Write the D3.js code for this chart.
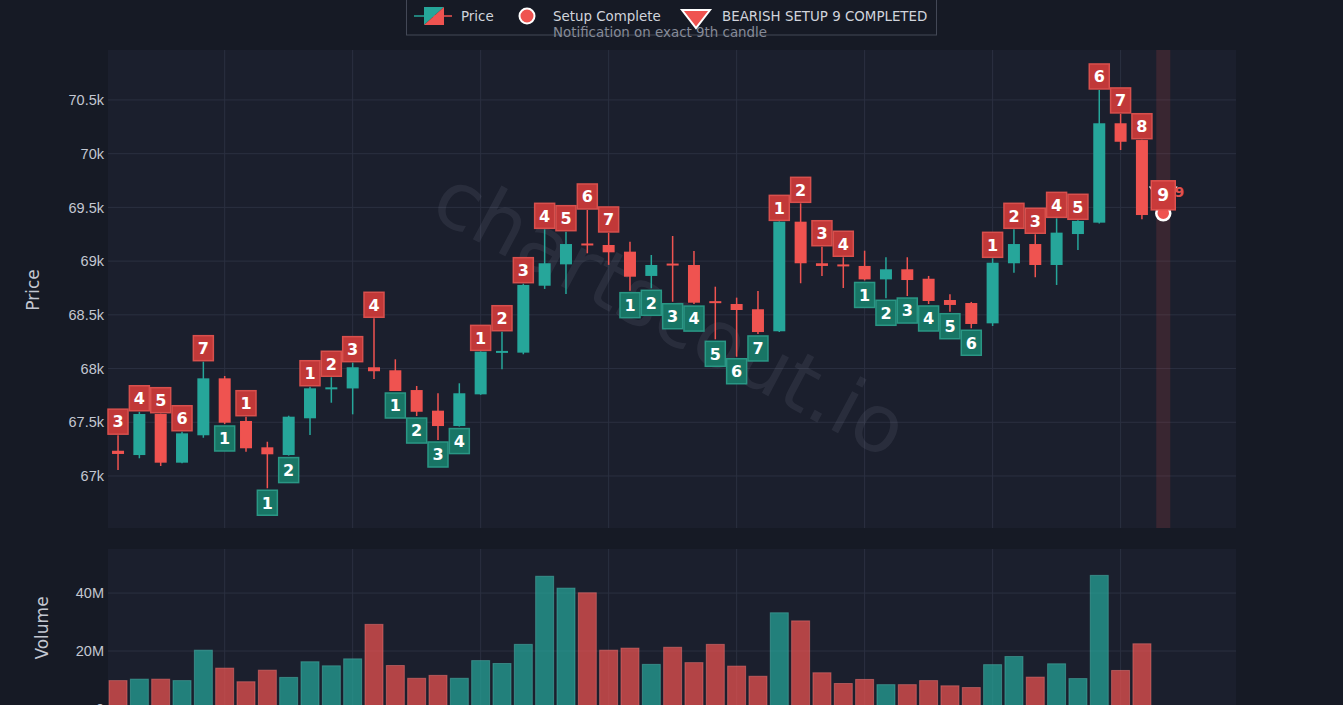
<!DOCTYPE html>
<html>
<head>
<meta charset="utf-8">
<script src="https://cdn.jsdelivr.net/npm/d3@7"></script>
<style>
  html, body { margin: 0; padding: 0; background: #161a25; overflow: hidden; }
  svg { display: block; font-family: "DejaVu Sans", sans-serif; }
</style>
</head>
<body>
<script>
// hourly candles
const opens  = [67235,67195,67577,67124,67379,67909,67512,67267,67195,67537,67812,67815,68012,67984,67800,67608,67465,67760,68150,68148,68771,68970,69155,69150,69088,68862,68968,68964,68618,68601,68552,68347,69367,68980,68960,68955,68830,68924,68836,68638,68610,68421,68980,69159,68964,69252,69358,70283,70127];
const highs  = [67380,67598,67580,67412,68064,67931,67552,67319,67561,67831,67919,68055,68468,68086,67838,67770,67863,68160,68343,68790,69296,69274,69476,69262,69180,69057,69234,69094,68762,68660,68722,69370,69538,69134,69036,69097,69036,69036,68862,68691,68620,69026,69296,69250,69398,69380,70593,70370,70130];
const lows   = [67055,67165,67093,67118,67356,67484,67226,66886,67190,67382,67682,67574,67903,67791,67558,67335,67460,67755,67993,68133,68741,68694,69073,68965,68725,68747,68622,68600,68272,68110,68322,68340,68794,68862,68750,68820,68654,68675,68601,68529,68375,68396,68892,68850,68778,69104,69350,70034,69390];
const closes = [67205,67577,67124,67397,67909,67496,67258,67202,67552,67816,67816,68012,67975,67791,67598,67465,67770,68157,68155,68778,68980,69159,69148,69082,68855,68964,68960,68613,68608,68545,68340,69367,68980,68955,68950,68830,68924,68824,68629,68592,68415,68985,69159,68964,69265,69374,70283,70111,69429];
const volumes = [9.8,10.3,10.3,9.8,20.3,14.1,9.4,13.4,10.9,16.3,14.9,17.3,29.2,15.0,10.6,11.6,10.6,16.7,15.7,22.3,45.8,41.7,40.1,20.3,21.0,15.4,21.3,16.0,22.3,14.8,11.3,33.2,30.4,12.5,8.8,10.2,8.4,8.4,9.8,8.0,7.4,15.3,18.1,11.0,15.6,10.5,46.1,13.3,22.5];

// setup counts: "s" = sell-setup count drawn above, "b" = buy-setup count drawn below
const setupCounts = [3,4,5,6,7,1,1,1,2,1,2,3,4,1,2,3,4,1,2,3,4,5,6,7,1,2,3,4,5,6,7,1,2,3,4,1,2,3,4,5,6,1,2,3,4,5,6,7,8];
const setupSides  = ["s","s","s","s","s","b","s","b","b","s","s","s","s","b","b","b","b","s","s","s","s","s","s","s","b","b","b","b","b","b","b","s","s","s","s","b","b","b","b","b","b","s","s","s","s","s","s","s","s"];

// the completed 9th candle (one slot after the last bar)
const completeIndex = 49;
const completePrice = 69445;

const priceTicks = [67000, 67500, 68000, 68500, 69000, 69500, 70000, 70500];
const volumeTicks = [0, 20e6, 40e6];

const W = 1343, H = 705;
const UP = "#26a69a", DOWN = "#ef5350";
const start = new Date(2024, 5, 12, 19, 0);
const hour = 3600e3;
const times = d3.range(completeIndex + 1).map(i => d3.timeHour.offset(start, i));

const candles = opens.map((o, i) => ({
  t: times[i], o, h: highs[i], l: lows[i], c: closes[i], v: volumes[i] * 1e6,
  n: setupCounts[i], side: setupSides[i]
}));

const plotL = 108, plotR = 1236;
const priceTop = 50, priceBot = 528;
const volTop = 549, volBot = 709;

const x = d3.scaleTime()
  .domain([new Date(+start - 0.47 * hour), new Date(+start + 52.41 * hour)])
  .range([plotL, plotR]);
const y = d3.scaleLinear().domain([66516, 70965]).range([priceBot, priceTop]);
const yv = d3.scaleLinear().domain([0, 55.2e6]).range([volBot, volTop]);

const svg = d3.select("body").append("svg").attr("width", W).attr("height", H);

// panel backgrounds
svg.append("rect").attr("x", plotL).attr("y", priceTop).attr("width", plotR - plotL)
  .attr("height", priceBot - priceTop).attr("fill", "#1b1f2d");
svg.append("rect").attr("x", plotL).attr("y", volTop).attr("width", plotR - plotL)
  .attr("height", volBot - volTop).attr("fill", "#1b1f2d");

const gridColor = "#2b3040";
const xTicks = x.ticks(d3.timeHour.every(6));

// price grid + axis
const pg = svg.append("g");
pg.selectAll(".hg").data(priceTicks).enter().append("line")
  .attr("x1", plotL).attr("x2", plotR)
  .attr("y1", d => y(d)).attr("y2", d => y(d))
  .attr("stroke", gridColor).attr("stroke-width", 1);
pg.selectAll(".vg").data(xTicks).enter().append("line")
  .attr("x1", d => x(d)).attr("x2", d => x(d))
  .attr("y1", priceTop).attr("y2", priceBot)
  .attr("stroke", gridColor).attr("stroke-width", 1);

const yAxis = svg.append("g")
  .attr("transform", `translate(${plotL - 2},0)`)
  .call(d3.axisLeft(y).tickValues(priceTicks).tickFormat(d3.format("~s")).tickSize(0).tickPadding(2));
yAxis.select(".domain").remove();
yAxis.selectAll("text").attr("fill", "#c3c7d1").style("font-size", "14.5px");

// volume grid + axis
const vg = svg.append("g");
vg.selectAll(".hg").data(volumeTicks.slice(1)).enter().append("line")
  .attr("x1", plotL).attr("x2", plotR)
  .attr("y1", d => yv(d)).attr("y2", d => yv(d))
  .attr("stroke", gridColor).attr("stroke-width", 1);
vg.selectAll(".vg").data(xTicks).enter().append("line")
  .attr("x1", d => x(d)).attr("x2", d => x(d))
  .attr("y1", volTop).attr("y2", volBot)
  .attr("stroke", gridColor).attr("stroke-width", 1);

const vAxis = svg.append("g")
  .attr("transform", `translate(${plotL - 2},0)`)
  .call(d3.axisLeft(yv).tickValues(volumeTicks).tickFormat(d3.format("~s")).tickSize(0).tickPadding(2));
vAxis.select(".domain").remove();
vAxis.selectAll("text").attr("fill", "#c3c7d1").style("font-size", "14.5px");

// axis titles
svg.append("text").attr("transform", "translate(39,290) rotate(-90)")
  .attr("text-anchor", "middle").attr("fill", "#c3c7d1").style("font-size", "17px").text("Price");
svg.append("text").attr("transform", "translate(48,628) rotate(-90)")
  .attr("text-anchor", "middle").attr("fill", "#c3c7d1").style("font-size", "17px").text("Volume");

// watermark
svg.append("text")
  .attr("transform", "translate(668,318) rotate(28)")
  .attr("text-anchor", "middle").attr("dominant-baseline", "middle")
  .attr("fill", "#a7adc2").attr("opacity", 0.1)
  .style("font-size", "80px")
  .text("chartscout.io");

// highlight band on the 9th candle
const step = x(times[1]) - x(times[0]);
svg.append("rect")
  .attr("x", x(times[completeIndex]) - 7).attr("y", priceTop)
  .attr("width", 14).attr("height", priceBot - priceTop)
  .attr("fill", DOWN).attr("opacity", 0.14);

// volume bars
svg.append("g").selectAll("rect").data(candles).enter().append("rect")
  .attr("x", d => x(d.t) - 9).attr("width", 18)
  .attr("y", d => yv(d.v)).attr("height", d => yv(0) - yv(d.v))
  .attr("fill", d => d.c >= d.o ? UP : DOWN).attr("fill-opacity", 0.72)
  .attr("stroke", d => d.c >= d.o ? "#4fb8ad" : "#f07a78").attr("stroke-opacity", 0.5)
  .attr("stroke-width", 1);

// candles
const cg = svg.append("g");
cg.selectAll("line").data(candles).enter().append("line")
  .attr("x1", d => x(d.t)).attr("x2", d => x(d.t))
  .attr("y1", d => y(d.h)).attr("y2", d => y(d.l))
  .attr("stroke", d => d.c >= d.o ? UP : DOWN).attr("stroke-width", 1.5);
cg.selectAll("rect").data(candles).enter().append("rect")
  .attr("x", d => x(d.t) - 6).attr("width", 12)
  .attr("y", d => Math.min(y(d.o), y(d.c)) - (Math.abs(y(d.o) - y(d.c)) < 2 ? 1 : 0))
  .attr("height", d => Math.max(Math.abs(y(d.o) - y(d.c)), 2))
  .attr("fill", d => d.c >= d.o ? UP : DOWN);

// setup count boxes
const bw = 20, bh = 25;
const lg = svg.append("g");
const labels = lg.selectAll("g").data(candles).enter().append("g")
  .attr("transform", d => {
    const cy = d.side === "s" ? y(d.h) - 1 - bh / 2 : y(d.l) + 2 + bh / 2;
    return `translate(${x(d.t)},${cy})`;
  });
labels.append("rect")
  .attr("x", -bw / 2).attr("y", -bh / 2).attr("width", bw).attr("height", bh)
  .attr("fill", d => d.side === "s" ? "#c13838" : "#187565")
  .attr("stroke", d => d.side === "s" ? "#d8504d" : "#2a9785").attr("stroke-width", 1.5);
labels.append("text")
  .attr("text-anchor", "middle").attr("dy", "0.36em")
  .attr("fill", "#ffffff").style("font-size", "16px").style("font-weight", "bold")
  .text(d => d.n);

// setup 9 completion marker
const cx9 = x(times[completeIndex]);
const cy9 = y(completePrice);
svg.append("path")
  .attr("d", `M${cx9 - 13},${cy9 - 26}L${cx9 + 13},${cy9 - 26}L${cx9},${cy9 - 6}Z`)
  .attr("fill", DOWN).attr("stroke", "#ffffff").attr("stroke-width", 1.5);
svg.append("text").attr("x", cx9 + 16).attr("y", cy9 - 21)
  .attr("text-anchor", "middle").attr("dy", "0.36em")
  .attr("fill", "#e0514e").style("font-size", "14px").style("font-weight", "bold").text("9");
svg.append("circle").attr("cx", cx9).attr("cy", cy9).attr("r", 7)
  .attr("fill", DOWN).attr("stroke", "#ffffff").attr("stroke-width", 2.5);
const g9 = svg.append("g").attr("transform", `translate(${cx9},${cy9 - 18})`);
g9.append("rect").attr("x", -12).attr("y", -14.5).attr("width", 24).attr("height", 29)
  .attr("fill", "#c93a3a").attr("stroke", "#e0514e").attr("stroke-width", 1.5);
g9.append("text").attr("text-anchor", "middle").attr("dy", "0.36em")
  .attr("fill", "#ffffff").style("font-size", "17px").style("font-weight", "bold").text("9");

// legend
const leg = svg.append("g");
leg.append("rect").attr("x", 406.5).attr("y", -1).attr("width", 530).attr("height", 36)
  .attr("fill", "#161a25").attr("stroke", "#434856").attr("stroke-width", 1);
leg.append("line").attr("x1", 414).attr("x2", 434).attr("y1", 16).attr("y2", 16)
  .attr("stroke", UP).attr("stroke-width", 1.5);
leg.append("line").attr("x1", 434).attr("x2", 452).attr("y1", 16).attr("y2", 16)
  .attr("stroke", DOWN).attr("stroke-width", 1.5);
leg.append("path").attr("d", "M424,7L444,7L424,25Z").attr("fill", UP);
leg.append("path").attr("d", "M444,7L444,25L424,25Z").attr("fill", DOWN);
leg.append("text").attr("x", 461).attr("y", 16).attr("dy", "0.35em")
  .attr("fill", "#d1d4dc").style("font-size", "13.4px").text("Price");
leg.append("circle").attr("cx", 527).attr("cy", 16).attr("r", 7.5)
  .attr("fill", DOWN).attr("stroke", "#ffffff").attr("stroke-width", 2);
leg.append("text").attr("x", 553).attr("y", 16).attr("dy", "0.35em")
  .attr("fill", "#d1d4dc").style("font-size", "13.4px").text("Setup Complete");
leg.append("path").attr("d", "M682,10L710,10L696,28Z")
  .attr("fill", DOWN).attr("stroke", "#ffffff").attr("stroke-width", 2);
leg.append("text").attr("x", 722).attr("y", 16).attr("dy", "0.35em")
  .attr("fill", "#d1d4dc").style("font-size", "13.4px").text("BEARISH SETUP 9 COMPLETED");
leg.append("text").attr("x", 553).attr("y", 32).attr("dy", "0.35em")
  .attr("fill", "#868b98").style("font-size", "13.4px").text("Notification on exact 9th candle");
</script>
</body>
</html>
